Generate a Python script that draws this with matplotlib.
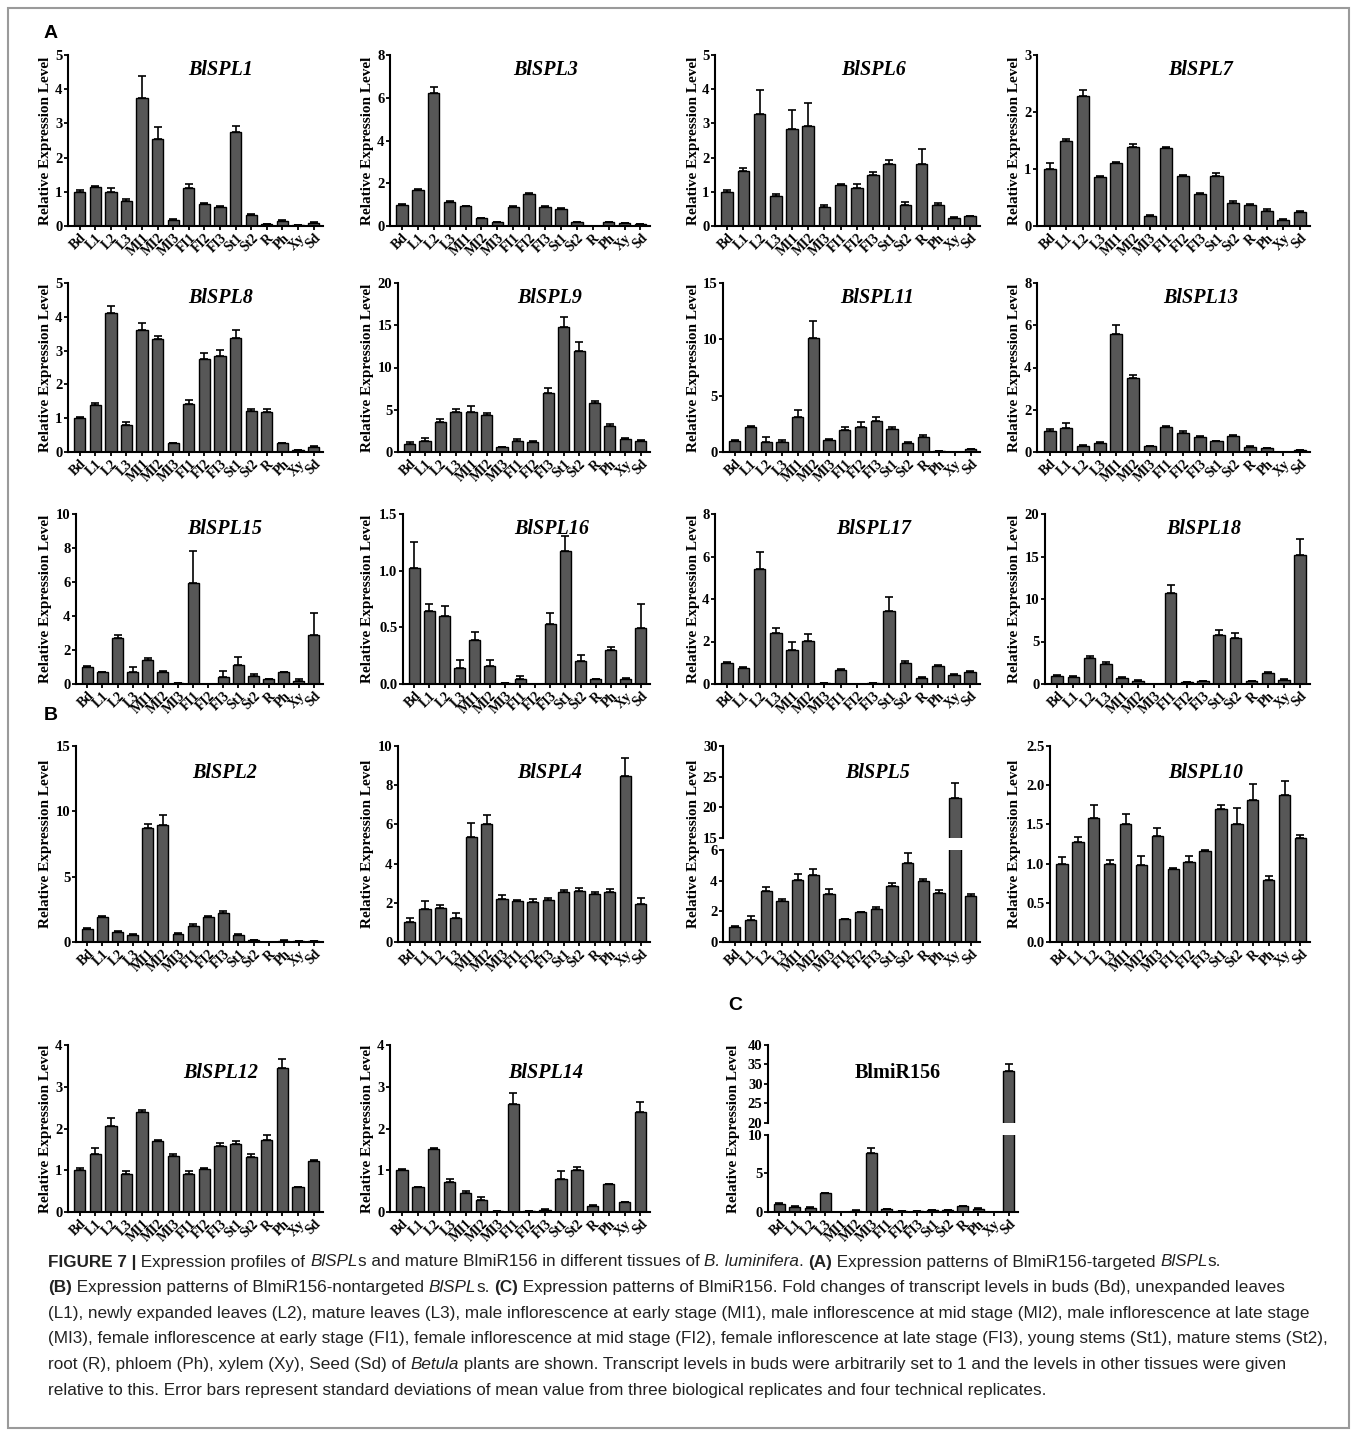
import matplotlib
matplotlib.use('Agg')
import matplotlib.pyplot as plt
import numpy as np
from matplotlib.patches import Rectangle

# tissues on the x axis
tissues = ['Bd', 'L1', 'L2', 'L3', 'MI1', 'MI2', 'MI3', 'FI1', 'FI2', 'FI3',
           'St1', 'St2', 'R', 'Ph', 'Xy', 'Sd']

# mean values and (upper) standard deviations
spl1 = [1.0, 1.15, 1.0, 0.73, 3.73, 2.55, 0.17, 1.12, 0.63, 0.56, 2.75, 0.33, 0.05, 0.15, 0.02, 0.09]
spl1_sd = [0.05, 0.03, 0.12, 0.05, 0.65, 0.35, 0.03, 0.1, 0.05, 0.02, 0.17, 0.03, 0.02, 0.02, 0.01, 0.02]
spl3 = [1.0, 1.67, 6.2, 1.12, 0.92, 0.37, 0.18, 0.87, 1.52, 0.9, 0.78, 0.17, 0.02, 0.17, 0.12, 0.09]
spl3_sd = [0.05, 0.08, 0.3, 0.06, 0.02, 0.02, 0.02, 0.05, 0.03, 0.05, 0.05, 0.02, 0.0, 0.02, 0.01, 0.01]
spl6 = [1.0, 1.62, 3.27, 0.88, 2.85, 2.92, 0.57, 1.2, 1.1, 1.48, 1.82, 0.62, 1.82, 0.62, 0.23, 0.28]
spl6_sd = [0.06, 0.08, 0.7, 0.05, 0.53, 0.67, 0.03, 0.03, 0.12, 0.1, 0.12, 0.07, 0.42, 0.04, 0.02, 0.02]
spl7 = [1.0, 1.5, 2.28, 0.86, 1.1, 1.38, 0.18, 1.37, 0.87, 0.57, 0.88, 0.4, 0.37, 0.27, 0.11, 0.25]
spl7_sd = [0.1, 0.02, 0.1, 0.02, 0.02, 0.06, 0.01, 0.02, 0.02, 0.01, 0.05, 0.03, 0.02, 0.02, 0.01, 0.02]

spl8 = [1.0, 1.38, 4.12, 0.8, 3.62, 3.35, 0.27, 1.42, 2.75, 2.85, 3.37, 1.2, 1.18, 0.27, 0.06, 0.15]
spl8_sd = [0.03, 0.06, 0.2, 0.1, 0.2, 0.08, 0.01, 0.13, 0.18, 0.18, 0.25, 0.07, 0.1, 0.01, 0.01, 0.02]
spl9 = [1.0, 1.35, 3.55, 4.7, 4.75, 4.35, 0.55, 1.35, 1.2, 7.0, 14.8, 11.9, 5.75, 3.05, 1.5, 1.3]
spl9_sd = [0.2, 0.3, 0.4, 0.35, 0.7, 0.3, 0.05, 0.15, 0.15, 0.6, 1.2, 1.1, 0.3, 0.3, 0.1, 0.1]
spl11 = [1.0, 2.2, 0.9, 0.9, 3.15, 10.15, 1.05, 1.95, 2.25, 2.75, 2.05, 0.8, 1.3, 0.05, 0.03, 0.25]
spl11_sd = [0.05, 0.1, 0.45, 0.2, 0.55, 1.45, 0.1, 0.25, 0.45, 0.35, 0.15, 0.1, 0.25, 0.0, 0.0, 0.05]
spl13 = [1.0, 1.15, 0.3, 0.42, 5.6, 3.48, 0.27, 1.18, 0.92, 0.7, 0.5, 0.78, 0.25, 0.18, 0.02, 0.08]
spl13_sd = [0.1, 0.2, 0.03, 0.03, 0.4, 0.15, 0.03, 0.05, 0.08, 0.04, 0.02, 0.03, 0.02, 0.02, 0.0, 0.02]

spl15 = [1.0, 0.68, 2.7, 0.72, 1.43, 0.72, 0.03, 5.95, 0.0, 0.4, 1.1, 0.45, 0.27, 0.68, 0.2, 2.88]
spl15_sd = [0.05, 0.03, 0.18, 0.28, 0.08, 0.03, 0.01, 1.85, 0.0, 0.35, 0.5, 0.12, 0.02, 0.02, 0.07, 1.3]
spl16 = [1.02, 0.64, 0.6, 0.14, 0.39, 0.16, 0.01, 0.04, 0.0, 0.53, 1.17, 0.2, 0.04, 0.3, 0.04, 0.49]
spl16_sd = [0.23, 0.07, 0.09, 0.07, 0.07, 0.05, 0.0, 0.03, 0.0, 0.1, 0.14, 0.06, 0.005, 0.03, 0.015, 0.22]
spl17 = [1.0, 0.77, 5.42, 2.42, 1.6, 2.03, 0.05, 0.67, 0.0, 0.03, 3.45, 0.97, 0.3, 0.87, 0.43, 0.58]
spl17_sd = [0.03, 0.03, 0.8, 0.23, 0.38, 0.32, 0.0, 0.03, 0.0, 0.0, 0.65, 0.12, 0.02, 0.03, 0.02, 0.03]
spl18 = [1.0, 0.8, 3.05, 2.3, 0.7, 0.35, 0.05, 10.75, 0.2, 0.3, 5.75, 5.45, 0.35, 1.3, 0.5, 15.2]
spl18_sd = [0.1, 0.1, 0.3, 0.25, 0.1, 0.1, 0.0, 0.9, 0.03, 0.04, 0.6, 0.5, 0.03, 0.1, 0.05, 1.9]

spl2 = [1.0, 1.9, 0.8, 0.55, 8.7, 8.95, 0.65, 1.25, 1.9, 2.2, 0.5, 0.15, 0.02, 0.1, 0.06, 0.06]
spl2_sd = [0.05, 0.12, 0.08, 0.05, 0.3, 0.75, 0.04, 0.1, 0.12, 0.15, 0.1, 0.02, 0.0, 0.02, 0.0, 0.0]
spl4 = [1.0, 1.68, 1.75, 1.22, 5.35, 6.0, 2.2, 2.1, 2.05, 2.12, 2.55, 2.58, 2.45, 2.55, 8.47, 1.92]
spl4_sd = [0.22, 0.4, 0.15, 0.28, 0.7, 0.5, 0.18, 0.05, 0.15, 0.12, 0.08, 0.2, 0.12, 0.15, 0.9, 0.3]
spl5 = [1.0, 1.42, 3.3, 2.68, 4.05, 4.35, 3.12, 1.5, 1.95, 2.12, 3.65, 5.15, 3.95, 3.22, 21.5, 3.03]
spl5_sd = [0.05, 0.25, 0.3, 0.13, 0.4, 0.4, 0.33, 0.02, 0.03, 0.15, 0.2, 0.68, 0.15, 0.15, 2.5, 0.08]
spl10 = [1.0, 1.27, 1.58, 1.0, 1.51, 0.98, 1.35, 0.93, 1.02, 1.16, 1.7, 1.51, 1.81, 0.79, 1.88, 1.33]
spl10_sd = [0.08, 0.07, 0.17, 0.05, 0.12, 0.12, 0.1, 0.01, 0.08, 0.01, 0.05, 0.2, 0.2, 0.05, 0.17, 0.04]
spl12 = [1.0, 1.38, 2.07, 0.92, 2.4, 1.7, 1.35, 0.9, 1.03, 1.57, 1.62, 1.32, 1.72, 3.45, 0.6, 1.23]
spl12_sd = [0.05, 0.15, 0.17, 0.07, 0.05, 0.03, 0.05, 0.08, 0.03, 0.08, 0.08, 0.06, 0.13, 0.22, 0.01, 0.02]
spl14 = [1.0, 0.6, 1.5, 0.72, 0.45, 0.29, 0.03, 2.58, 0.02, 0.04, 0.8, 1.0, 0.15, 0.67, 0.23, 2.4]
spl14_sd = [0.03, 0.01, 0.03, 0.08, 0.05, 0.08, 0.005, 0.28, 0.0, 0.02, 0.18, 0.08, 0.01, 0.01, 0.01, 0.24]
mir156 = [1.05, 0.7, 0.55, 2.4, 0.05, 0.15, 7.55, 0.4, 0.15, 0.1, 0.25, 0.2, 0.8, 0.45, 0.05, 33.3]
mir156_sd = [0.05, 0.05, 0.05, 0.08, 0.0, 0.05, 0.7, 0.05, 0.03, 0.0, 0.05, 0.03, 0.03, 0.03, 0.0, 1.8]

W, H = 1357, 1436
SERIF = 'Liberation Serif'
BAR = '#575757'

fig = plt.figure(figsize=(W / 100, H / 100), dpi=100)
fig.patches.append(Rectangle((8 / W, 8 / H), 1341 / W, 1420 / H, transform=fig.transFigure,
                             fill=False, edgecolor='#9a9a9a', linewidth=1.5))


def box(l, t, r, b):
    return [l / W, 1 - b / H, (r - l) / W, (b - t) / H]


def style_axes(ax, ticks, fmt, xlabels=True):
    x = np.arange(len(tissues))
    for s in ['top', 'right']:
        ax.spines[s].set_visible(False)
    for s in ['left', 'bottom']:
        ax.spines[s].set_linewidth(1.5)
    ax.set_xlim(-0.75, 15.6)
    ax.set_yticks(ticks)
    ax.set_yticklabels([fmt.format(t) for t in ticks], fontsize=10.5,
                       fontweight='bold', family=SERIF)
    ax.tick_params(axis='y', length=3, width=1.3, pad=1)
    ax.set_xticks(x)
    if xlabels:
        ax.set_xticklabels(tissues, rotation=45, ha='right', rotation_mode='anchor',
                           fontsize=9.8, fontweight='bold', family=SERIF)
        ax.tick_params(axis='x', length=3, width=1.3, pad=1)
    else:
        ax.set_xticklabels([])


def bars(ax, vals, errs):
    x = np.arange(len(tissues))
    ax.bar(x, vals, width=0.72, color=BAR, edgecolor='black', linewidth=1.0, zorder=2)
    ax.errorbar(x, vals, yerr=[np.zeros(len(vals)), errs], fmt='none', ecolor='black',
                elinewidth=1.2, capsize=3.2, capthick=1.2, zorder=1)


def title(l, t, r, name, dy, italic=True, frac=0.6):
    fig.text((l + frac * (r - l)) / W, 1 - (t + dy) / H, name, ha='center', va='center',
             fontsize=14.5, fontweight='bold', fontstyle='italic' if italic else 'normal',
             family=SERIF)


def ylabel(x, t, b):
    fig.text(x / W, 1 - (t + b) / 2 / H, 'Relative Expression Level', rotation=90,
             ha='center', va='center', fontsize=11, fontweight='bold', family=SERIF)


def shift_for(labels):
    n = max(len(s) for s in labels)
    return {1: 0, 2: 8, 3: 13}.get(n, 13)


def panel(pos, name, vals, errs, top, step, fmt='{:g}', dy=15):
    l, t, r, b = pos
    ticks = np.arange(0, top + step / 2, step)
    lab_x = l - 22
    l = l + shift_for([fmt.format(v) for v in ticks])
    ax = fig.add_axes(box(l, t, r, b))
    bars(ax, vals, errs)
    ax.set_ylim(0, top)
    style_axes(ax, ticks, fmt)
    title(l, t, r, name, dy)
    ylabel(lab_x, t, b)
    return ax


def broken_panel(pos, name, vals, errs, low, low_step, high, high_step, gap, dy,
                 italic=True, frac=0.6, lab_dx=22):
    l, t, r, b = pos
    lo_ticks = np.arange(0, low + low_step / 2, low_step)
    hi_ticks = np.arange(high[0], high[1] + high_step / 2, high_step)
    lab_x = l - lab_dx
    l = l + shift_for(['{:g}'.format(v) for v in hi_ticks])
    half = (b - t - gap) / 2
    ax_hi = fig.add_axes(box(l, t, r, t + half))
    ax_lo = fig.add_axes(box(l, b - half, r, b))
    for ax in (ax_hi, ax_lo):
        bars(ax, vals, errs)
    ax_lo.set_ylim(0, low)
    style_axes(ax_lo, lo_ticks, '{:g}')
    ax_hi.set_ylim(high[0], high[1])
    style_axes(ax_hi, hi_ticks, '{:g}', xlabels=False)
    ax_hi.spines['bottom'].set_visible(False)
    ax_hi.tick_params(axis='x', length=0)
    title(l, t, r, name, dy, italic, frac)
    ylabel(lab_x, t, b)


cols = [(68, 323), (390, 650), (715, 980), (1037, 1310)]
rows = [(55, 226), (283, 452), (514, 684), (746, 942), (1045, 1212)]


def pos(i, j):
    return (cols[j][0], rows[i][0], cols[j][1], rows[i][1])


# panel A
panel(pos(0, 0), 'BlSPL1', spl1, spl1_sd, 5, 1)
panel(pos(0, 1), 'BlSPL3', spl3, spl3_sd, 8, 2)
panel(pos(0, 2), 'BlSPL6', spl6, spl6_sd, 5, 1)
panel(pos(0, 3), 'BlSPL7', spl7, spl7_sd, 3, 1)
panel(pos(1, 0), 'BlSPL8', spl8, spl8_sd, 5, 1)
panel(pos(1, 1), 'BlSPL9', spl9, spl9_sd, 20, 5)
panel(pos(1, 2), 'BlSPL11', spl11, spl11_sd, 15, 5)
panel(pos(1, 3), 'BlSPL13', spl13, spl13_sd, 8, 2)
panel(pos(2, 0), 'BlSPL15', spl15, spl15_sd, 10, 2)
panel(pos(2, 1), 'BlSPL16', spl16, spl16_sd, 1.5, 0.5, '{:.1f}')
panel(pos(2, 2), 'BlSPL17', spl17, spl17_sd, 8, 2)
panel(pos(2, 3), 'BlSPL18', spl18, spl18_sd, 20, 5)

# panel B
panel(pos(3, 0), 'BlSPL2', spl2, spl2_sd, 15, 5, dy=27)
panel(pos(3, 1), 'BlSPL4', spl4, spl4_sd, 10, 2, dy=27)
broken_panel(pos(3, 2), 'BlSPL5', spl5, spl5_sd, 6, 2, (15, 30), 5, 12, 27)
panel(pos(3, 3), 'BlSPL10', spl10, spl10_sd, 2.5, 0.5, '{:.1f}', dy=27)
panel(pos(4, 0), 'BlSPL12', spl12, spl12_sd, 4, 1, dy=28)
panel(pos(4, 1), 'BlSPL14', spl14, spl14_sd, 4, 1, dy=28)

# panel C
broken_panel((760, 1045, 1018, 1212), 'BlmiR156', mir156, mir156_sd, 10, 5, (20, 40), 5, 12, 28,
             italic=False, frac=0.52, lab_dx=26)

for letter, x, y in [('A', 44, 33), ('B', 44, 716), ('C', 728, 1005)]:
    fig.text(x / W, 1 - y / H, letter, ha='left', va='center', fontsize=14,
             fontweight='bold', family='Liberation Sans')

# caption, drawn run by run to mix bold / italic
caption = [
    [('FIGURE 7 |', 'b'), (' Expression profiles of ', 'r'), ('BlSPL', 'i'), ('s and mature BlmiR156 in different tissues of ', 'r'),
     ('B. luminifera', 'i'), ('. ', 'r'), ('(A)', 'b'), (' Expression patterns of BlmiR156-targeted ', 'r'), ('BlSPL', 'i'), ('s.', 'r')],
    [('(B)', 'b'), (' Expression patterns of BlmiR156-nontargeted ', 'r'), ('BlSPL', 'i'), ('s. ', 'r'), ('(C)', 'b'),
     (' Expression patterns of BlmiR156. Fold changes of transcript levels in buds (Bd), unexpanded leaves', 'r')],
    [('(L1), newly expanded leaves (L2), mature leaves (L3), male inflorescence at early stage (MI1), male inflorescence at mid stage (MI2), male inflorescence at late stage', 'r')],
    [('(MI3), female inflorescence at early stage (FI1), female inflorescence at mid stage (FI2), female inflorescence at late stage (FI3), young stems (St1), mature stems (St2),', 'r')],
    [('root (R), phloem (Ph), xylem (Xy), Seed (Sd) of ', 'r'), ('Betula', 'i'),
     (' plants are shown. Transcript levels in buds were arbitrarily set to 1 and the levels in other tissues were given', 'r')],
    [('relative to this. Error bars represent standard deviations of mean value from three biological replicates and four technical replicates.', 'r')],
]

renderer = fig.canvas.get_renderer()
CAP = 12.3


def text_width(s, kw):
    t = fig.text(0, 0, s, **kw)
    w = t.get_window_extent(renderer).width
    t.remove()
    return w


for k, line in enumerate(caption):
    x = 48
    y = 1262 + k * 25.6
    for s, st in line:
        kw = dict(fontsize=CAP, family='Liberation Sans', color='#222222',
                  fontweight='bold' if st == 'b' else 'normal',
                  fontstyle='italic' if st == 'i' else 'normal')
        core = s.rstrip(' ')
        n = len(s) - len(core)
        t = fig.text(x / W, 1 - y / H, core, ha='left', va='center', **kw)
        x += t.get_window_extent(renderer).width
        if n:
            x += n * (text_width('x x', kw) - text_width('xx', kw))

fig.savefig('out.png', dpi=100)
